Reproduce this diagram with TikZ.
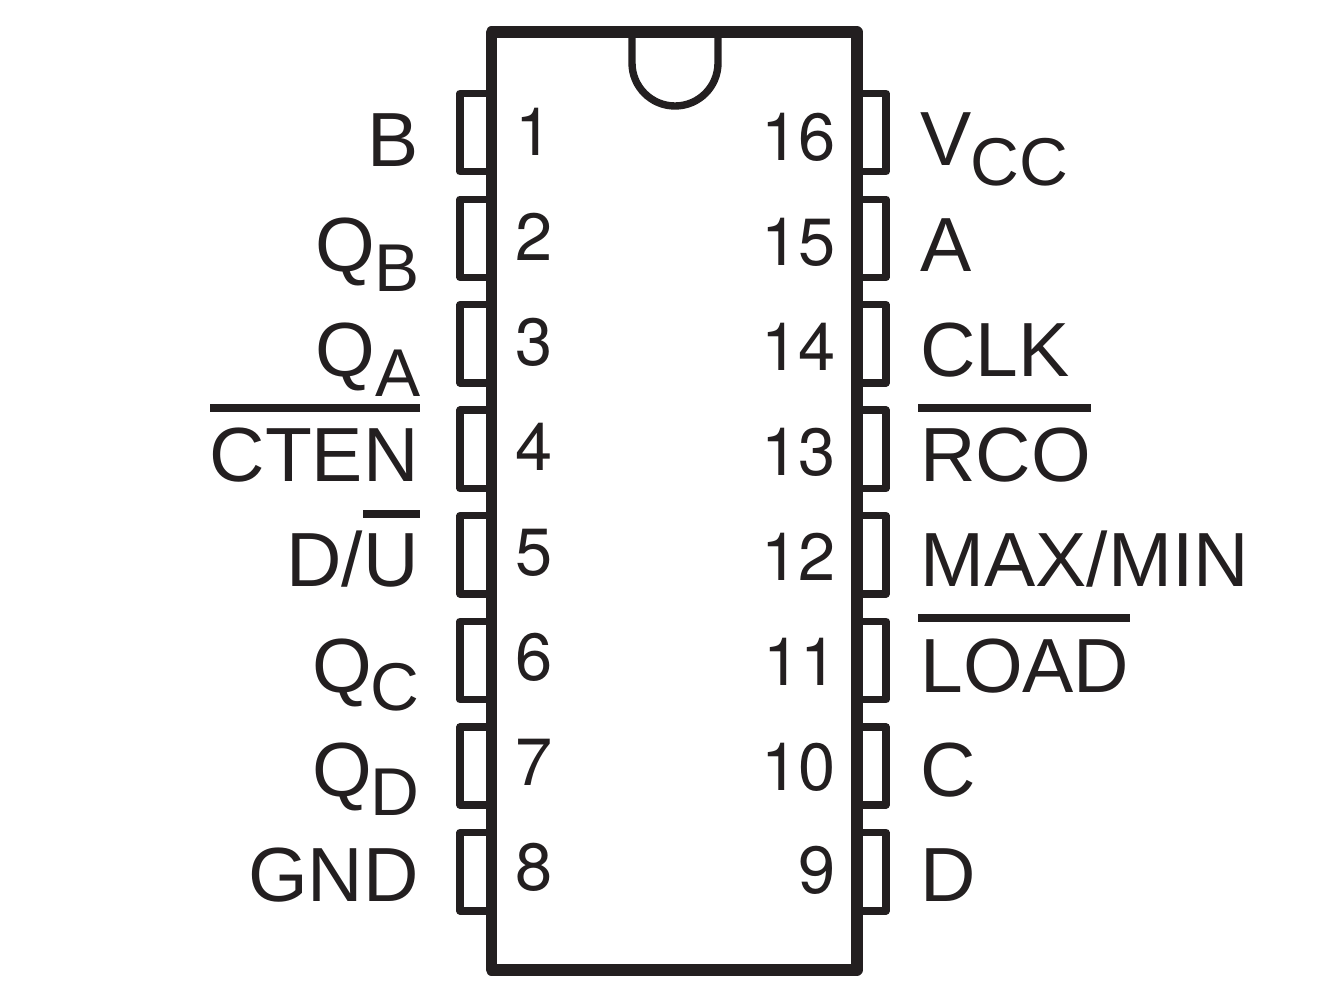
\documentclass[tikz,border=0pt]{standalone}
\usepackage{fontspec}
\setmainfont{Liberation Sans}
\newfontfamily\numfont{TeX Gyre Heros}
\tikzset{
    chip/.style = {line width=6.3pt, line join=round, color=icblack},
    notch/.style = {line width=4.2pt, color=icblack},
    pinbox/.style = {line width=4.1pt, line join=round, color=icblack},
    pinname/.style = {inner sep=0pt, text=icblack, font=\fontsize{43.7}{44}\selectfont},
    pinnum/.style = {inner sep=0pt, text=icblack, font=\numfont\fontsize{38}{38}\selectfont},
    subname/.style = {inner sep=0pt, text=icblack, font=\fontsize{38.5}{39}\selectfont},
    barline/.style = {line width=4.4pt, color=icblack},
}
\definecolor{icblack}{HTML}{231F20}
\begin{document}
\begin{tikzpicture}[x=0.02cm, y=-0.02cm]
    \useasboundingbox (0,0) rectangle (1342,984);

    % package outline with notch
    \draw[notch] (632,32) -- (632,63) arc[start angle=180, end angle=0, radius=43] -- (718,32);
    \draw[chip] (491.5,32) rectangle (857,970);

    % left pins
    \draw[pinbox] (491,93.3) -- (460,93.3) -- (460,171.7) -- (491,171.7);
    \draw[pinbox] (491,199.2) -- (460,199.2) -- (460,277.3) -- (491,277.3);
    \draw[pinbox] (491,304.7) -- (460,304.7) -- (460,383) -- (491,383);
    \draw[pinbox] (491,410) -- (460,410) -- (460,488.5) -- (491,488.5);
    \draw[pinbox] (491,515.7) -- (460,515.7) -- (460,594) -- (491,594);
    \draw[pinbox] (491,621.3) -- (460,621.3) -- (460,699.7) -- (491,699.7);
    \draw[pinbox] (491,726.9) -- (460,726.9) -- (460,805) -- (491,805);
    \draw[pinbox] (491,832.5) -- (460,832.5) -- (460,910.9) -- (491,910.9);

    % right pins
    \draw[pinbox] (857,93.3) -- (886,93.3) -- (886,171.7) -- (857,171.7);
    \draw[pinbox] (857,199.2) -- (886,199.2) -- (886,277.3) -- (857,277.3);
    \draw[pinbox] (857,304.7) -- (886,304.7) -- (886,383) -- (857,383);
    \draw[pinbox] (857,410) -- (886,410) -- (886,488.5) -- (857,488.5);
    \draw[pinbox] (857,515.7) -- (886,515.7) -- (886,594) -- (857,594);
    \draw[pinbox] (857,621.3) -- (886,621.3) -- (886,699.7) -- (857,699.7);
    \draw[pinbox] (857,726.9) -- (886,726.9) -- (886,805) -- (857,805);
    \draw[pinbox] (857,832.5) -- (886,832.5) -- (886,910.9) -- (857,910.9);

    % pin numbers
    \node[pinnum, anchor=base] (n1) at (534,155) {1};
    \node[pinnum, anchor=base] (n2) at (534,260) {2};
    \node[pinnum, anchor=base] (n3) at (534,365) {3};
    \node[pinnum, anchor=base] (n4) at (534,470) {4};
    \node[pinnum, anchor=base] (n5) at (534,575) {5};
    \node[pinnum, anchor=base] (n6) at (534,680) {6};
    \node[pinnum, anchor=base] (n7) at (534,785) {7};
    \node[pinnum, anchor=base] (n8) at (534,890) {8};
    \node[pinnum, anchor=base east] (n16) at (836,160) {16};
    \node[pinnum, anchor=base east] (n15) at (836,265) {15};
    \node[pinnum, anchor=base east] (n14) at (836,370) {14};
    \node[pinnum, anchor=base east] (n13) at (836,475) {13};
    \node[pinnum, anchor=base east] (n12) at (836,580) {12};
    \node[pinnum, anchor=base east] (n11) at (838,685) {11};
    \node[pinnum, anchor=base east] (n10) at (836,790) {10};
    \node[pinnum, anchor=base east] (n9) at (836,893) {9};

    % left names
    \node[pinname, anchor=base east] (B) at (419,166) {B};
    \node[pinname, anchor=base east] (QB) at (376,271) {Q};
    \node[subname, anchor=base east] (QBs) at (420,291) {B};
    \node[pinname, anchor=base east] (QA) at (376,376) {Q};
    \node[subname, anchor=base east] (QAs) at (421,396) {A};
    \node[pinname, anchor=base east] (CTEN) at (419,481) {CTEN};
    \node[pinname, anchor=base east] (DU) at (419,586) {D/U};
    \node[pinname, anchor=base east] (QC) at (373,692) {Q};
    \node[subname, anchor=base east] (QCs) at (420,710) {C};
    \node[pinname, anchor=base east] (QD) at (373,796) {Q};
    \node[subname, anchor=base east] (QDs) at (420,815) {D};
    \node[pinname, anchor=base east] (GND) at (419,901) {GND};

    % right names
    \node[pinname, anchor=base west] (V) at (920,165) {V};
    \node[subname, anchor=base west] (Vs) at (970,185) {CC};
    \node[pinname, anchor=base west] (A) at (920,271) {A};
    \node[pinname, anchor=base west] (CLK) at (920,376) {CLK};
    \node[pinname, anchor=base west] (RCO) at (920,481) {RCO};
    \node[pinname, anchor=base west] (MAX) at (920,586) {MAX/MIN};
    \node[pinname, anchor=base west] (LOAD) at (920,692) {LOAD};
    \node[pinname, anchor=base west] (C) at (920,796) {C};
    \node[pinname, anchor=base west] (D) at (920,901) {D};

    % active low bars
    \draw[barline] (210,408) -- (420,408);
    \draw[barline] (363,514) -- (420,514);
    \draw[barline] (918,408) -- (1091,408);
    \draw[barline] (918,618) -- (1130,618);

\end{tikzpicture}
\end{document}
